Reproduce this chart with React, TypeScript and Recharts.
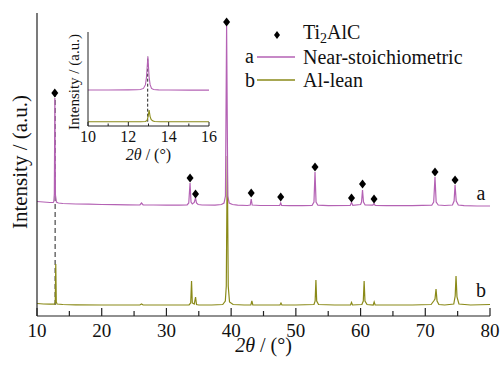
import React from 'react';
import {
  ComposedChart,
  Line,
  XAxis,
  YAxis,
  Legend,
  ReferenceLine,
  ReferenceDot,
  Label,
} from 'recharts';

// XRD patterns of Ti2AlC, trace a shifted up, trace b at the bottom

const FONT = '"Liberation Serif", "Times New Roman", serif';
const PURPLE = '#b462b4';
const OLIVE = '#8a8a18';

// a: near-stoichiometric
const angleA = [
  10, 11, 12, 12.5, 12.6, 12.68, 12.76, 12.85, 13.0, 13.3, 14, 16, 18, 20, 22, 24,
  25.9, 26.15, 26.4, 28, 30, 32, 33.2, 33.45, 33.65, 33.8, 34.0, 34.3, 34.5, 34.65,
  34.9, 35.5, 37.5, 38.5, 38.9, 39.12, 39.3, 39.48, 39.7, 40.2, 41, 42.5, 42.95, 43.1,
  43.25, 44.5, 47.5, 47.66, 47.8, 49, 51, 52.5, 52.8, 52.96, 53.12, 53.4, 55, 58.4,
  58.6, 58.8, 60.0, 60.15, 60.3, 60.45, 60.7, 61.9, 62.08, 62.25, 64, 68, 71.0, 71.3,
  71.5, 71.68, 72.0, 73, 74.2, 74.45, 74.6, 74.78, 75.1, 76, 78, 80,
];
const countA = [
  114.5, 114, 113.5, 113.5, 114.5, 122, 218, 121, 114, 113, 112.5, 112, 111.8, 111.5, 111.3, 111.2,
  111, 113, 111, 111, 110.8, 110.8, 111, 113, 133, 114, 112, 113.5, 118, 113,
  111.5, 111, 110.8, 111.5, 113, 120, 290, 120, 113, 111.5, 110.8, 110.5, 111, 117,
  111, 110.5, 110.5, 113, 110.5, 110.3, 110.3, 110.5, 114, 144, 114, 110.8, 110.3, 110.5,
  113.5, 110.7, 111.5, 114, 126, 114, 111, 110.8, 112.5, 110.7, 110.3, 110.3, 110.8, 114,
  139, 114, 111, 110.5, 111, 115, 131, 115, 111, 110.3, 110, 110,
];

// b: Al-lean
const angleB = [
  10, 11, 12, 12.72, 12.82, 12.9, 12.98, 13.1, 14, 16, 20, 24, 25.9, 26.15, 26.4, 30,
  33.5, 33.75, 33.88, 34.0, 34.3, 34.5, 34.65, 35, 37, 38.7, 39.1, 39.25, 39.4, 39.55,
  39.75, 40.3, 42, 43.05, 43.2, 43.35, 45, 47.55, 47.7, 47.85, 50, 52.8, 52.98, 53.1,
  53.22, 53.5, 56, 58.45, 58.6, 58.75, 60.2, 60.42, 60.55, 60.68, 61, 61.95, 62.1, 62.25,
  65, 68, 70.9, 71.3, 71.5, 71.66, 71.82, 72.1, 73, 74.4, 74.62, 74.75, 74.9, 75.2,
  77, 80,
];
const countB = [
  12.5, 12, 11.8, 11.8, 14, 52, 14, 12, 11.5, 11.2, 11, 11, 11, 12, 11, 11,
  11, 13, 35, 13, 12, 19, 11.5, 11, 11, 11.5, 15, 30, 160, 30,
  14, 11.5, 11, 11, 15, 11, 11, 11, 13, 11, 11, 11.5, 15, 36,
  15, 11.5, 11, 11, 13.5, 11, 11.5, 15, 35, 15, 11.5, 11, 14, 11,
  11, 11, 11.5, 15, 17, 27, 15, 11.5, 11, 12, 20, 40, 19, 12,
  11, 11.5,
];

// Ti2AlC reflections (diamond markers)
const peakAngles = [12.75, 33.65, 34.5, 39.3, 43.1, 47.66, 52.96, 58.6, 60.3, 62.08, 71.5, 74.6];
const peakMarks = [223, 138, 122, 294, 123, 119, 149, 118, 132, 117, 144, 136];

const mainTicks = [10, 15, 20, 25, 30, 35, 40, 45, 50, 55, 60, 65, 70, 75, 80];

// inset: 10-16 deg zoom of the (002) peak
const insetAngleA = [10, 11, 12, 12.4, 12.6, 12.75, 12.85, 12.9, 12.97, 13.03, 13.08, 13.15, 13.25, 13.5, 14, 15, 16];
const insetCountA = [38.3, 38.3, 38.4, 38.5, 38.8, 40, 44, 52, 74, 52, 44, 40, 38.8, 38.4, 38.3, 38.2, 38.2];
const insetAngleB = [10, 11, 12, 12.6, 12.85, 12.93, 12.98, 13.03, 13.08, 13.13, 13.2, 13.3, 13.6, 14, 15, 16];
const insetCountB = [4.6, 4.6, 4.6, 4.6, 4.8, 6, 10, 17, 10, 7, 5.5, 4.8, 4.6, 4.6, 4.6, 4.6];
const insetTicks = [10, 11, 12, 13, 14, 15, 16];

const toRows = (xs: number[], ys: number[]) => xs.map((angle, i) => ({ angle, value: ys[i] }));

const traceA = toRows(angleA, countA);
const traceB = toRows(angleB, countB);
const markers = toRows(peakAngles, peakMarks);
const insetA = toRows(insetAngleA, insetCountA);
const insetB = toRows(insetAngleB, insetCountB);

function MainTick({ x, y, payload }: any) {
  const major = payload.value % 10 === 0;
  return (
    <g>
      <line x1={x} y1={y} x2={x} y2={y - (major ? 8 : 5)} stroke="#222" strokeWidth={1.2} />
      {major && (
        <text x={x} y={y + 21} textAnchor="middle" fontSize={19} fontFamily={FONT} fill="#111">
          {payload.value}
        </text>
      )}
    </g>
  );
}

function InsetTick({ x, y, payload }: any) {
  const major = payload.value % 2 === 0;
  return (
    <g>
      <line x1={x} y1={y} x2={x} y2={y - (major ? 4 : 2.5)} stroke="#222" strokeWidth={1} />
      {major && (
        <text x={x} y={y + 16} textAnchor="middle" fontSize={16} fontFamily={FONT} fill="#111">
          {payload.value}
        </text>
      )}
    </g>
  );
}

function Diamond({ cx, cy }: any) {
  if (cx == null || cy == null) return null;
  return (
    <polygon
      points={`${cx},${cy - 4.5} ${cx + 3.5},${cy} ${cx},${cy + 4.5} ${cx - 3.5},${cy}`}
      fill="#000"
    />
  );
}

function ThetaLabel({ viewBox, dy, size }: any) {
  const cx = viewBox.x + viewBox.width / 2;
  return (
    <text x={cx} y={viewBox.y + dy} textAnchor="middle" fontSize={size} fontFamily={FONT} fill="#111">
      <tspan fontStyle="italic">2θ</tspan> / (°)
    </text>
  );
}

function IntensityLabel({ x, y, size }: { x: number; y: number; size: number }) {
  return (
    <text
      x={x}
      y={y}
      dy="0.35em"
      transform={`rotate(-90, ${x}, ${y})`}
      textAnchor="middle"
      fontSize={size}
      fontFamily={FONT}
      fill="#111"
    >
      Intensity / (a.u.)
    </text>
  );
}

function LegendBox() {
  return (
    <svg width={250} height={80} style={{ display: 'block' }}>
      <polygon points="37,16 40,20 37,24 34,20" fill="#000" />
      <text x={63} y={24} fontSize={20} fontFamily={FONT} fill="#111">
        Ti<tspan dy={4} fontSize={14}>2</tspan>
        <tspan dy={-4}>AlC</tspan>
      </text>
      <text x={5} y={48} fontSize={20} fontFamily={FONT} fill="#111">a</text>
      <line x1={17} y1={42} x2={55} y2={42} stroke={PURPLE} strokeWidth={1.5} />
      <text x={63} y={49} fontSize={20} fontFamily={FONT} fill="#111">Near-stoichiometric</text>
      <text x={5} y={72} fontSize={20} fontFamily={FONT} fill="#111">b</text>
      <line x1={17} y1={65} x2={55} y2={65} stroke={OLIVE} strokeWidth={1.5} />
      <text x={63} y={72} fontSize={20} fontFamily={FONT} fill="#111">Al-lean</text>
    </svg>
  );
}

export default function App() {
  return (
    <div style={{ position: 'absolute', left: 0, top: 0, width: 501, height: 367, background: '#fff', fontFamily: FONT }}>
      <ComposedChart width={501} height={367} margin={{ top: 13, right: 11, bottom: 0, left: 0 }}>
        <XAxis
          type="number"
          dataKey="angle"
          domain={[10, 80]}
          ticks={mainTicks}
          interval={0}
          height={51}
          tickSize={0}
          tickMargin={0}
          tick={<MainTick />}
          axisLine={{ stroke: '#222', strokeWidth: 1.2 }}
          allowDataOverflow
        >
          <Label content={<ThetaLabel dy={36} size={20} />} />
        </XAxis>
        <XAxis xAxisId="top" orientation="top" type="number" domain={[10, 80]} height={0} tick={false} tickLine={false} axisLine={{ stroke: '#222', strokeWidth: 1.2 }} />
        <YAxis type="number" domain={[0, 303]} width={37} tick={false} tickLine={false} axisLine={{ stroke: '#222', strokeWidth: 1.2 }} allowDataOverflow />
        <YAxis yAxisId="r" orientation="right" type="number" domain={[0, 303]} width={0} tick={false} tickLine={false} axisLine={{ stroke: '#222', strokeWidth: 1.2 }} />
        <ReferenceLine
          segment={[{ x: 12.8, y: 11 }, { x: 12.8, y: 223 }]}
          stroke="#222"
          strokeDasharray="5 3"
          strokeWidth={1}
        />
        <Line data={traceB} dataKey="value" type="linear" stroke={OLIVE} strokeWidth={1.2} dot={false} activeDot={false} isAnimationActive={false} />
        <Line data={traceA} dataKey="value" type="linear" stroke={PURPLE} strokeWidth={1.2} dot={false} activeDot={false} isAnimationActive={false} />
        <Line data={markers} dataKey="value" stroke="none" dot={<Diamond />} activeDot={false} isAnimationActive={false} legendType="none" />
        <ReferenceDot x={78.6} y={123} r={0} label={{ value: 'a', position: 'center', fontSize: 20, fontFamily: FONT, fill: '#111' }} />
        <ReferenceDot x={78.6} y={26} r={0} label={{ value: 'b', position: 'center', fontSize: 20, fontFamily: FONT, fill: '#111' }} />
        <Legend
          layout="horizontal"
          verticalAlign="middle"
          align="center"
          content={() => <LegendBox />}
          wrapperStyle={{ left: 240, top: 15, width: 250, height: 80 }}
        />
        <IntensityLabel x={20} y={162} size={21} />
      </ComposedChart>

      <div style={{ position: 'absolute', left: 60, top: 25 }}>
        <ComposedChart width={160} height={140} margin={{ top: 7, right: 11, bottom: 0, left: 0 }}>
          <XAxis
            type="number"
            dataKey="angle"
            domain={[10, 16]}
            ticks={insetTicks}
            interval={0}
            height={39}
            tickSize={0}
            tickMargin={0}
            tick={<InsetTick />}
            axisLine={{ stroke: '#222', strokeWidth: 1 }}
            allowDataOverflow
          >
            <Label content={<ThetaLabel dy={34} size={16} />} />
          </XAxis>
          <XAxis xAxisId="top" orientation="top" type="number" domain={[10, 16]} height={0} tick={false} tickLine={false} axisLine={{ stroke: '#222', strokeWidth: 1 }} />
          <YAxis type="number" domain={[0, 100]} width={28} tick={false} tickLine={false} axisLine={{ stroke: '#222', strokeWidth: 1 }} allowDataOverflow />
          <YAxis yAxisId="r" orientation="right" type="number" domain={[0, 100]} width={0} tick={false} tickLine={false} axisLine={{ stroke: '#222', strokeWidth: 1 }} />
          <ReferenceLine
            segment={[{ x: 12.96, y: 4.6 }, { x: 12.96, y: 74 }]}
            stroke="#222"
            strokeDasharray="3 2"
            strokeWidth={1}
          />
          <Line data={insetB} dataKey="value" type="linear" stroke={OLIVE} strokeWidth={1.1} dot={false} activeDot={false} isAnimationActive={false} />
          <Line data={insetA} dataKey="value" type="linear" stroke={PURPLE} strokeWidth={1.1} dot={false} activeDot={false} isAnimationActive={false} />
          <IntensityLabel x={14} y={57} size={15} />
        </ComposedChart>
      </div>
    </div>
  );
}
